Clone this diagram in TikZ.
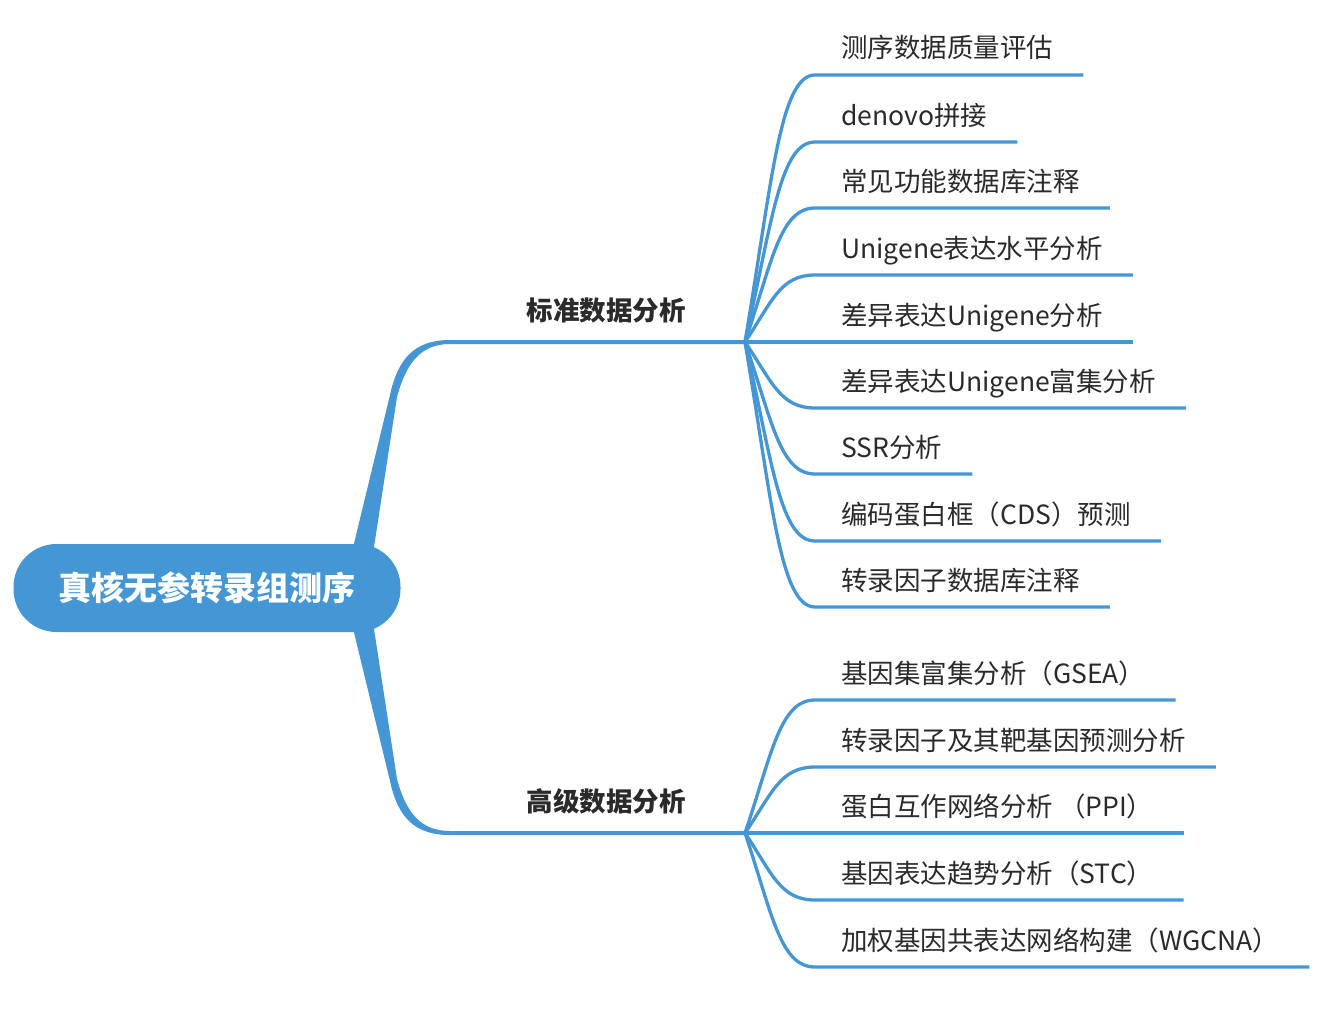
\documentclass[tikz,border=0pt]{standalone}
\usepackage{fontspec}
\setmainfont{Noto Sans CJK SC}
\usetikzlibrary{calc}
\definecolor{mb}{HTML}{4497D4}
\definecolor{tx}{HTML}{2A2A2A}
\begin{document}
\begin{tikzpicture}[x=1pt,y=-1pt,
  leaf/.style={anchor=base west,inner sep=0pt,text=tx,font=\fontsize{26.5}{30}\selectfont},
  branch/.style={inner sep=0pt,text=tx,font=\bfseries\fontsize{26.5}{30}\selectfont},
  rootbox/.style={fill=mb,rounded corners=43pt,minimum width=387pt,minimum height=88pt,text=white,font=\bfseries\fontsize{33}{36}\selectfont},
  leafline/.style={draw=mb,line width=3.3pt}]
\useasboundingbox (0,0) rectangle (1320,1033);
\coordinate (j1) at (745,342);
\coordinate (j2) at (745,833);
% main branches
\fill[mb] (350,560) -- (390,395) .. controls (398,358) and (415,340) .. (450,340) -- (745,340) -- (745,344) -- (450,344) .. controls (420,344) and (406,364) .. (397,397) -- (372,560) -- cycle;
\fill[mb] (350,616) -- (390,781) .. controls (398,818) and (415,835) .. (450,835) -- (745,835) -- (745,831) -- (450,831) .. controls (420,831) and (406,812) .. (397,779) -- (372,616) -- cycle;
\node[rootbox] (root) at (207,588) {真核无参转录组测序};
\node[branch,anchor=base] (b1) at (606,320) {标准数据分析};
\node[branch,anchor=base] (b2) at (606,811) {高级数据分析};
% leaves of branch 1
\foreach \y/\t/\n in {75/测序数据质量评估/a1,142/denovo拼接/a2,208/常见功能数据库注释/a3,275/Unigene表达水平分析/a4,342/差异表达Unigene分析/a5,408/差异表达Unigene富集分析/a6,474/SSR分析/a7,541/编码蛋白框（CDS）预测/a8,607/转录因子数据库注释/a9}{
  \node[leaf] (\n) at (841,\y-17) {\t};
  \draw[leafline] (j1) .. controls (772,{0.6*\y+0.4*342}) and (780,\y) .. (815,\y) -- ($(\n.base east)+(30,17)$);
}
% leaves of branch 2
\foreach \y/\t/\n in {700/基因集富集分析（GSEA）/c1,767/转录因子及其靶基因预测分析/c2,833/蛋白互作网络分析 （PPI）/c3,900/基因表达趋势分析（STC）/c4,967/加权基因共表达网络构建（WGCNA）/c5}{
  \node[leaf] (\n) at (841,\y-17) {\t};
  \draw[leafline] (j2) .. controls (772,{0.6*\y+0.4*833}) and (780,\y) .. (815,\y) -- ($(\n.base east)+(30,17)$);
}
\end{tikzpicture}
\end{document}
